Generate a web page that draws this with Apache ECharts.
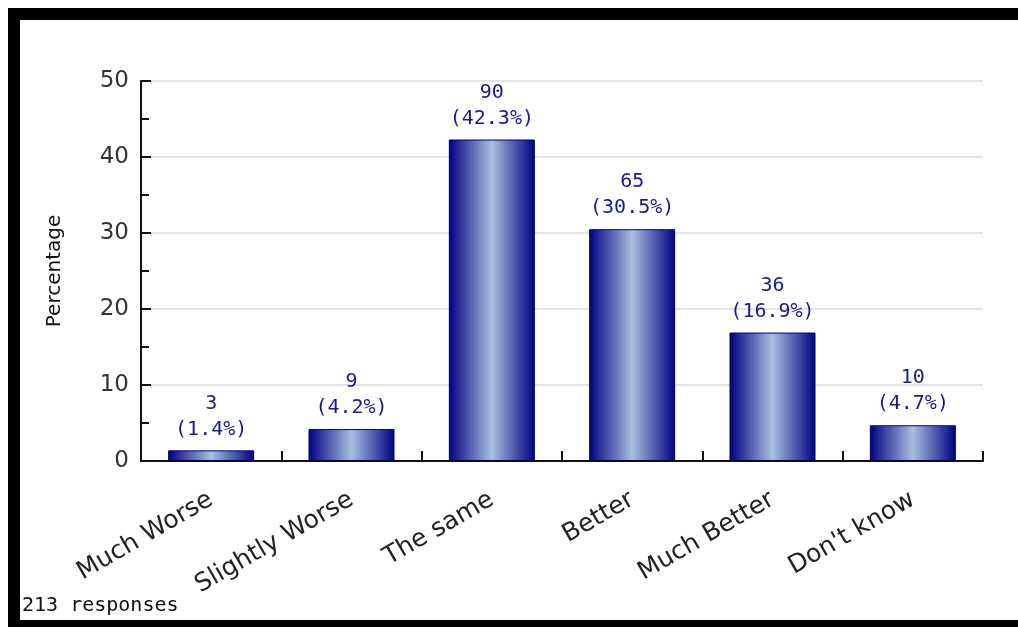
<!DOCTYPE html>
<html><head><meta charset="utf-8">
<script src="https://cdn.jsdelivr.net/npm/echarts@6/dist/echarts.min.js"></script>
<style>html,body{margin:0;padding:0;background:#fff;}#c{width:1018px;height:627px;}</style>
</head><body><div id="c"></div>
<script>
const categories = ['Much Worse', 'Slightly Worse', 'The same', 'Better', 'Much Better', "Don't know"];
const counts = [3, 9, 90, 65, 36, 10];
const percents = [1.4, 4.2, 42.3, 30.5, 16.9, 4.7];
const totalResponses = 213;
const yTicks = [0, 10, 20, 30, 40, 50];

const chart = echarts.init(document.getElementById('c'), null, {renderer: 'canvas'});
const grad = new echarts.graphic.LinearGradient(0, 0, 1, 0, [
  {offset: 0, color: '#000080'},
  {offset: 0.5, color: '#a9bedf'},
  {offset: 1, color: '#000080'}
]);
chart.setOption({
  animation: false,
  grid: {left: 141, right: 35, top: 81, bottom: 166, containLabel: false},
  graphic: [
    {type: 'rect', shape: {x: 8, y: 8, width: 1010, height: 12}, style: {fill: '#000'}},
    {type: 'rect', shape: {x: 8, y: 8, width: 12, height: 619}, style: {fill: '#000'}},
    {type: 'rect', shape: {x: 8, y: 620, width: 1010, height: 7}, style: {fill: '#000'}},
    {type: 'text', left: 22, top: 596, style: {text: totalResponses + ' responses', font: '20px "DejaVu Sans Mono"', fill: '#111'}}
  ],
  xAxis: {
    type: 'category', data: categories,
    axisLine: {lineStyle: {color: '#111', width: 2}},
    axisTick: {show: true, inside: true, length: 10, alignWithLabel: false, lineStyle: {color: '#111', width: 2}},
    axisLabel: {rotate: 30, margin: 37, color: '#222', fontSize: 25, fontFamily: 'DejaVu Sans', interval: 0}
  },
  yAxis: {
    type: 'value', min: yTicks[0], max: yTicks[yTicks.length - 1], interval: 10,
    name: 'Percentage', nameLocation: 'middle', nameGap: 76, nameRotate: 90,
    nameTextStyle: {color: '#111', fontSize: 20, fontFamily: 'DejaVu Sans'},
    axisLine: {show: true, lineStyle: {color: '#111', width: 2}},
    axisTick: {show: true, inside: true, length: 10, lineStyle: {color: '#111', width: 2}},
    minorTick: {show: true, splitNumber: 2, length: 8, lineStyle: {color: '#111', width: 2}},
    splitLine: {show: true, lineStyle: {color: '#e3e3e3', width: 2}},
    axisLabel: {color: '#333', fontSize: 23, fontFamily: 'DejaVu Sans', margin: 12}
  },
  series: [{
    type: 'bar', data: percents, barWidth: 86,
    itemStyle: {color: grad, borderColor: '#000070', borderWidth: 1},
    label: {
      show: true, position: 'top', distance: 8,
      fontFamily: 'DejaVu Sans Mono', fontSize: 20, color: '#1a1a8c', lineHeight: 26,
      formatter: p => counts[p.dataIndex] + '\n(' + percents[p.dataIndex].toFixed(1) + '%)'
    }
  }]
});
</script></body></html>
